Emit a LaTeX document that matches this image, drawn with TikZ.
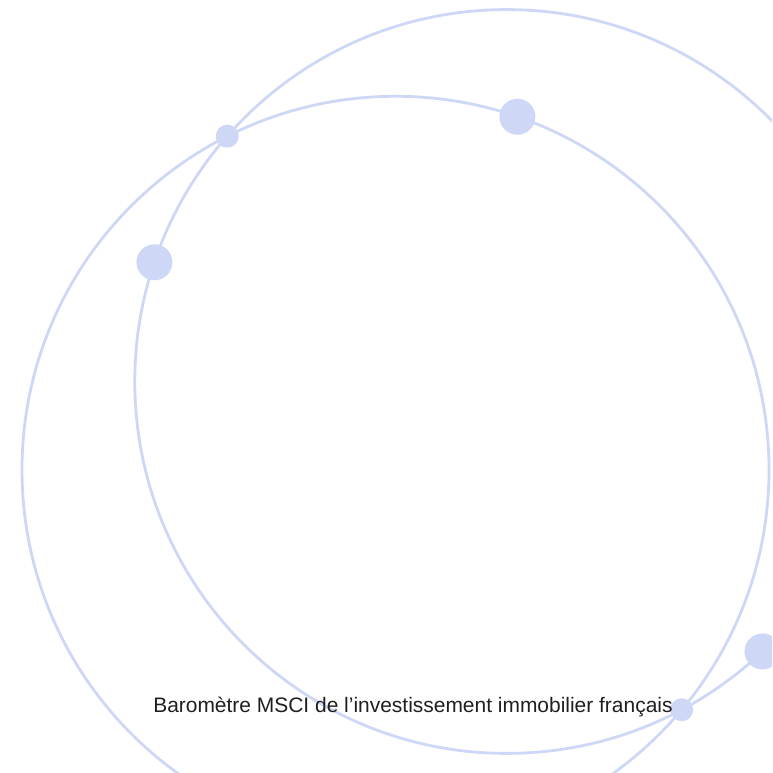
\documentclass[tikz,border=0pt]{standalone}
\usepackage{fontspec}
\setmainfont{Liberation Sans}
\usepackage{xcolor}
\usepackage{tikz}
\usetikzlibrary{positioning,calc,intersections}
\definecolor{orbit}{HTML}{CFD7F6}

\begin{document}
\begin{tikzpicture}[x=0.025cm, y=0.025cm,
  ring/.style={draw=orbit, line width=2pt},
  dot/.style={circle, fill=orbit, inner sep=0pt, minimum size=0.9cm},
  knot/.style={circle, fill=orbit, inner sep=0pt, minimum size=0.575cm},
  caption/.style={font=\fontsize{14.9}{17}\selectfont, text=black!88, inner sep=0pt}]
\useasboundingbox (0,0) rectangle (772,773);
\clip (0,0) rectangle (772,773);
\coordinate (c1) at (395.5,303.2);
\coordinate (c2) at (506.7,391.5);
\draw[ring, name path=ring1] (c1) circle [radius=373.5];
\draw[ring, name path=ring2] (c2) circle [radius=371.9];
\path[name intersections={of=ring1 and ring2, by={k1,k2}}];
\node[knot] (cross1) at (k1) {};
\node[knot] (cross2) at (k2) {};
\node[dot] (left) at ($(c2)+(161.3:371.9)$) {};
\node[dot] (top) at ($(c1)+(70.95:373.5)$) {};
\node[dot] (right) at ($(c2)+(-46.55:371.9)$) {};
\node[caption, anchor=base west] (title) at (153,60) {Baromètre MSCI de l’investissement immobilier français};
\end{tikzpicture}
\end{document}
